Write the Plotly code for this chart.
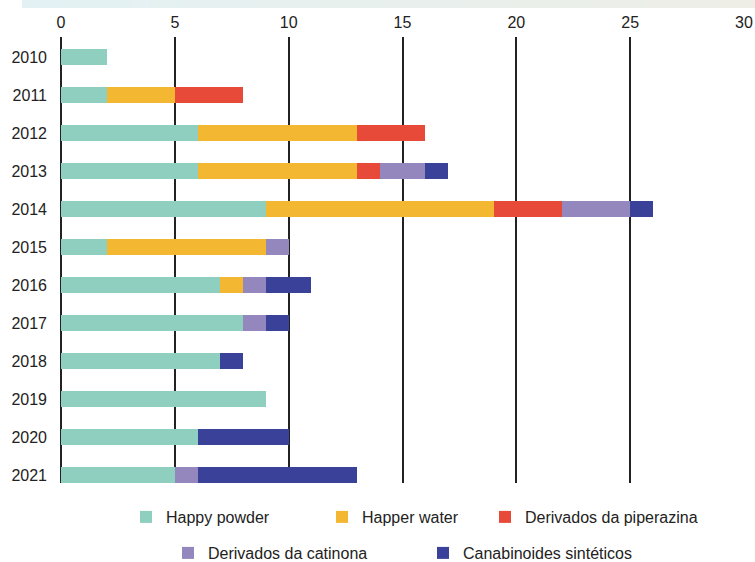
import plotly.graph_objects as go

years = ["2010", "2011", "2012", "2013", "2014", "2015", "2016", "2017", "2018", "2019", "2020", "2021"]
happy_powder = [2, 2, 6, 6, 9, 2, 7, 8, 7, 9, 6, 5]
happer_water = [0, 3, 7, 7, 10, 7, 1, 0, 0, 0, 0, 0]
piperazina = [0, 3, 3, 1, 3, 0, 0, 0, 0, 0, 0, 0]
catinona = [0, 0, 0, 2, 3, 1, 1, 1, 0, 0, 0, 1]
canabinoides = [0, 0, 0, 1, 1, 0, 2, 1, 1, 0, 4, 7]

series = [
    ("Happy powder", happy_powder, "#8ecfbf"),
    ("Happer water", happer_water, "#f4b731"),
    ("Derivados da piperazina", piperazina, "#e84a3a"),
    ("Derivados da catinona", catinona, "#9487bd"),
    ("Canabinoides sintéticos", canabinoides, "#3a4198"),
]

# plot area in pixels
L, R, T, B = 61, 744, 37, 483
W, H = R - L, B - T

def px_x(p):
    return (p - L) / W

def px_y(p):
    return (B - p) / H

# legend swatch centers (pixels)
legend_pos = [(146, 517), (342, 517), (505, 517), (188, 553), (443, 553)]

FAM = "Liberation Sans, Arial, sans-serif"
font = dict(family=FAM, size=16, color="#222")

fig = go.Figure()
layout_legends = {}
for i, (name, vals, color) in enumerate(series):
    lg = "legend" if i == 0 else "legend%d" % (i + 1)
    fig.add_trace(go.Bar(
        y=years, x=vals, name=name, orientation="h",
        marker=dict(color=color, line=dict(width=0)),
        width=0.4, legend=lg,
    ))
    cx, cy = legend_pos[i]
    layout_legends[lg] = dict(
        x=px_x(cx - 20), xanchor="left", y=px_y(cy), yanchor="middle",
        orientation="h", font=dict(family=FAM, size=16, color="#222"),
        itemwidth=30, bgcolor="rgba(0,0,0,0)",
    )

# top gradient band
c0 = (227, 241, 244)
c1 = (238, 238, 230)
n = 40
xa, xb = px_x(22), px_x(755)
for i in range(n):
    t = i / (n - 1)
    col = tuple(int(round(c0[k] + (c1[k] - c0[k]) * t)) for k in range(3))
    fig.add_shape(type="rect", xref="paper", yref="paper",
                  x0=xa + (xb - xa) * i / n, x1=xa + (xb - xa) * (i + 1) / n + 0.002,
                  y0=px_y(8), y1=px_y(0),
                  fillcolor="rgb(%d,%d,%d)" % col, line=dict(width=0), layer="below")

fig.update_layout(
    barmode="stack",
    width=755, height=562,
    margin=dict(l=L, r=755 - R, t=T, b=562 - B, autoexpand=False),
    paper_bgcolor="white", plot_bgcolor="white",
    font=font,
    xaxis=dict(range=[0, 30], side="top", dtick=5, showgrid=True,
               gridcolor="#222", gridwidth=2, zeroline=True, zerolinecolor="#222",
               zerolinewidth=2, showline=False, ticks="", tickfont=font,
               ticklabelstandoff=5, fixedrange=True),
    yaxis=dict(type="category", categoryorder="array", categoryarray=years,
               range=[11.21, -0.526], showgrid=False, zeroline=False, ticks="",
               ticklabelstandoff=13, tickfont=font, fixedrange=True),
    showlegend=True,
    **layout_legends,
)

fig.write_html("out.html")
